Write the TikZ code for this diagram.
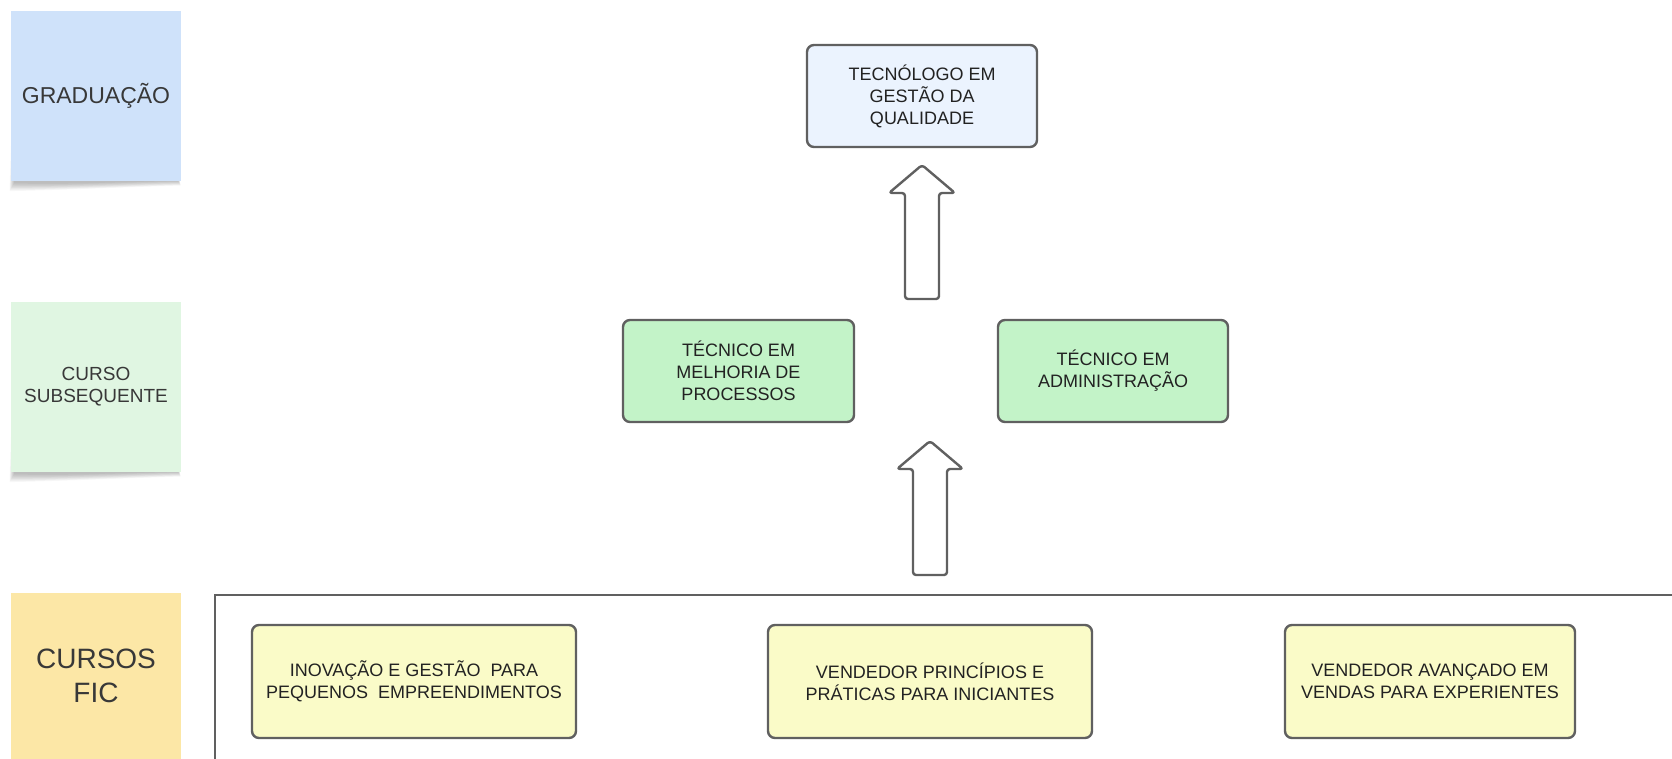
\documentclass[tikz,border=0pt]{standalone}
\usepackage{fontspec}
\setmainfont{Liberation Sans}
\usetikzlibrary{calc}

\definecolor{stickyblue}{HTML}{CFE2FA}
\definecolor{stickygreen}{HTML}{E0F6E2}
\definecolor{stickyyellow}{HTML}{FCE7A6}
\definecolor{boxblue}{HTML}{EBF3FE}
\definecolor{boxgreen}{HTML}{C3F3C8}
\definecolor{boxyellow}{HTML}{FAFBC8}
\definecolor{edgegray}{HTML}{606060}
\definecolor{inktext}{HTML}{222222}
\definecolor{stickytext}{HTML}{383838}

% soft curled shadow under a sticky note whose corners are (x0,y0) and (x1,y1)
\newcommand\NoteShadow[4]{%
  \foreach \k in {0,...,9}{%
    \fill[black,opacity=0.028]
      (#1+5-0.5*\k, #4-50) -- (#1+3-0.5*\k, #4+2+0.9*\k)
      .. controls (#1+40, #4+4+0.6*\k) and (#3-60, #4+1+0.6*\k) .. (#3-3+0.3*\k, #4+0.5*\k)
      -- (#3-3, #4-10) -- cycle;
  }}

\tikzset{
  sticky/.style={fill=#1, draw=none, align=center, text=stickytext,
    minimum width=170, minimum height=170, inner sep=0pt, outer sep=0pt},
  course/.style={fill=#1, draw=edgegray, line width=2.4pt, rounded corners=7pt,
    align=center, text=inktext, inner sep=0pt, outer sep=0pt,
    font=\fontsize{18}{22}\selectfont},
  arrowline/.style={draw=edgegray, fill=white, line width=2.4pt,
    rounded corners=3pt, line join=round},
  uparrow/.pic={
    \path[arrowline] (-17,0) -- (-17,-106) -- (-33,-106) -- (0,-134)
      -- (33,-106) -- (17,-106) -- (17,0) -- cycle;
  }
}

\begin{document}
\begin{tikzpicture}[x=1pt,y=-1pt]
  \clip (0,0) rectangle (1672,758);
  \fill[white] (0,0) rectangle (1672,758);

  % level labels on the left
  \NoteShadow{11}{11}{181}{181}
  \node[sticky=stickyblue, font=\fontsize{23}{28}\selectfont] (grad) at (96,96)
    {GRADUAÇÃO};
  \NoteShadow{11}{302}{181}{472}
  \node[sticky=stickygreen, font=\fontsize{19}{22}\selectfont] (subs) at (96,387)
    {CURSO\\SUBSEQUENTE};
  \fill[stickyyellow] (11,593) rectangle (181,770);
  \node[align=center, text=stickytext, inner sep=0pt, font=\fontsize{28}{34}\selectfont]
    (fic) at (96,676) {CURSOS\\FIC};

  % frame holding the FIC courses
  \draw[edgegray, line width=2.2pt] (215,595) rectangle (1700,800);
  \coordinate (frametop) at (0,595);

  % graduation
  \node[course=boxblue, minimum width=230, minimum height=102] (tec) at (922,96)
    {TECNÓLOGO EM\\GESTÃO DA\\QUALIDADE};

  % subsequent technical courses
  \node[course=boxgreen, minimum width=231, minimum height=102] (melh) at (738.5,371)
    {TÉCNICO EM\\MELHORIA DE\\PROCESSOS};
  \node[course=boxgreen, minimum width=230, minimum height=102] (adm) at (1113,371)
    {TÉCNICO EM\\ADMINISTRAÇÃO};

  % FIC courses
  \node[course=boxyellow, minimum width=324, minimum height=113] (fic1) at (414,681.5)
    {INOVAÇÃO E GESTÃO~ PARA\\PEQUENOS~ EMPREENDIMENTOS};
  \node[course=boxyellow, minimum width=324, minimum height=113] (fic2) at (930,681.5)
    {VENDEDOR PRINCÍPIOS E\\PRÁTICAS PARA INICIANTES};
  \node[course=boxyellow, minimum width=290, minimum height=113] (fic3) at (1430,681.5)
    {VENDEDOR AVANÇADO EM\\VENDAS PARA EXPERIENTES};

  % progression arrows
  \pic at ($(tec.south)+(0,152)$) {uparrow};
  \pic at ($(fic2.center |- frametop)+(0,-20)$) {uparrow};
\end{tikzpicture}
\end{document}
